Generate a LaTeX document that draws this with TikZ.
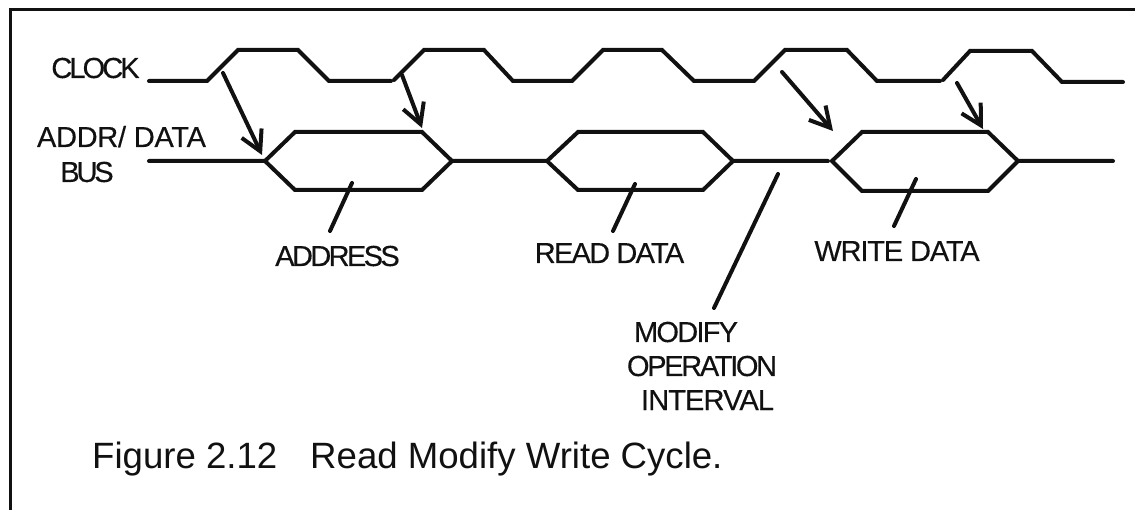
\documentclass[tikz,border=0pt]{standalone}
\usepackage{fontspec}
\setmainfont{Liberation Sans}
\newfontfamily\lsA[LetterSpace=-10,FakeBold=0.3]{Liberation Sans}
\newfontfamily\lsB[LetterSpace=-1,FakeBold=0.3]{Liberation Sans}
\newfontfamily\lsC[LetterSpace=-11,FakeBold=0.3]{Liberation Sans}
\newfontfamily\lsD[LetterSpace=-9,FakeBold=0.3]{Liberation Sans}
\newfontfamily\lsE[LetterSpace=-6,FakeBold=0.3]{Liberation Sans}
\newfontfamily\lsF[LetterSpace=-4,FakeBold=0.3]{Liberation Sans}
\newfontfamily\lsG[LetterSpace=-8,FakeBold=0.3]{Liberation Sans}
\newfontfamily\lsH[LetterSpace=-3,FakeBold=0.3]{Liberation Sans}
\usetikzlibrary{arrows.meta}
\definecolor{ink}{HTML}{111111}
\tikzset{
  wave/.style={draw=ink,line width=4pt,line join=miter,line cap=round},
  pointer/.style={wave,-{Straight Barb[length=20pt,width=22pt,line width=4pt]}},
  leader/.style={wave},
  frame/.style={draw=ink,line width=3pt},
  lab/.style={inner sep=0pt,text=ink,font=\fontsize{29}{29}\selectfont,anchor=base},
  captiontext/.style={inner sep=0pt,text=ink,font=\fontsize{36.6}{36.6}\selectfont,anchor=base west}
}
\begin{document}
\begin{tikzpicture}[x=1pt,y=-1pt]
\useasboundingbox (0,0) rectangle (1135,510);
\fill[white] (0,0) rectangle (1135,510);
\draw[frame] (10,510) -- (10,10) -- (1135,10);
% clock waveform
\draw[wave] (149,81) -- (207,81) -- (238,50) -- (298,50) -- (329,81) -- (391,81);
\draw[wave] (394,80) -- (424,50) -- (484,50) -- (513,81) -- (572,81) -- (603,50) -- (662,50) -- (694,81) -- (754,81) -- (785,50) -- (847,50) -- (877,81) -- (940,81);
\draw[wave] (943,80) -- (970,51) -- (1032,51) -- (1062,82) -- (1123,82);
% bus
\draw[wave] (149,161) -- (265,161) -- (295,132) -- (422,132) -- (452,161) -- (547,161) -- (578,132) -- (703,132) -- (733,161) -- (828,161);
\draw[wave] (265,161) -- (295,190) -- (422,190) -- (452,161);
\draw[wave] (547,161) -- (578,190) -- (703,190) -- (733,161);
\draw[wave] (832,161) -- (862,132) -- (988,132) -- (1018,161) -- (1113,161);
\draw[wave] (832,161) -- (862,191) -- (988,191) -- (1018,161);
% labels
\node[lab] (clk) at (95.5,78) {\lsA CLOCK};
\node[lab] (addr) at (121.5,147) {\lsB ADDR/ DATA};
\node[lab] (bus) at (87,182) {\lsC BUS};
\node[lab] (address) at (337.5,266) {\lsD ADDRESS};
\node[lab] (read) at (609.5,263) {\lsE READ DATA};
\node[lab] (write) at (897,261) {\lsF WRITE DATA};
\node[lab] (modify) at (686,342) {\lsE MODIFY};
\node[lab] (oper) at (702,376) {\lsG OPERATION};
\node[lab] (inter) at (707.5,410) {\lsH INTERVAL};
\node[captiontext] (caption) at (92,468) {Figure 2.12\hspace{0.9em}Read Modify Write Cycle.};
% connector ends
\coordinate (a1s) at (223,73); \coordinate (a1e) at (262,155);
\coordinate (a2s) at (402,75); \coordinate (a2e) at (422,128);
\coordinate (a3s) at (782,72); \coordinate (a3e) at (833,131);
\coordinate (a4s) at (957,83); \coordinate (a4e) at (983,129);
\coordinate (l1s) at (352,183); \coordinate (l1e) at (330,231);
\coordinate (l2s) at (635,184); \coordinate (l2e) at (613,231);
\coordinate (l3s) at (778,174); \coordinate (l3e) at (714,308);
\coordinate (l4s) at (916,179); \coordinate (l4e) at (894,226);
\draw[pointer] (a1s) -- (a1e);
\draw[pointer] (a2s) -- (a2e);
\draw[pointer] (a3s) -- (a3e);
\draw[pointer] (a4s) -- (a4e);
\draw[leader] (l1s) -- (l1e);
\draw[leader] (l2s) -- (l2e);
\draw[leader] (l3s) -- (l3e);
\draw[leader] (l4s) -- (l4e);
\end{tikzpicture}
\end{document}
